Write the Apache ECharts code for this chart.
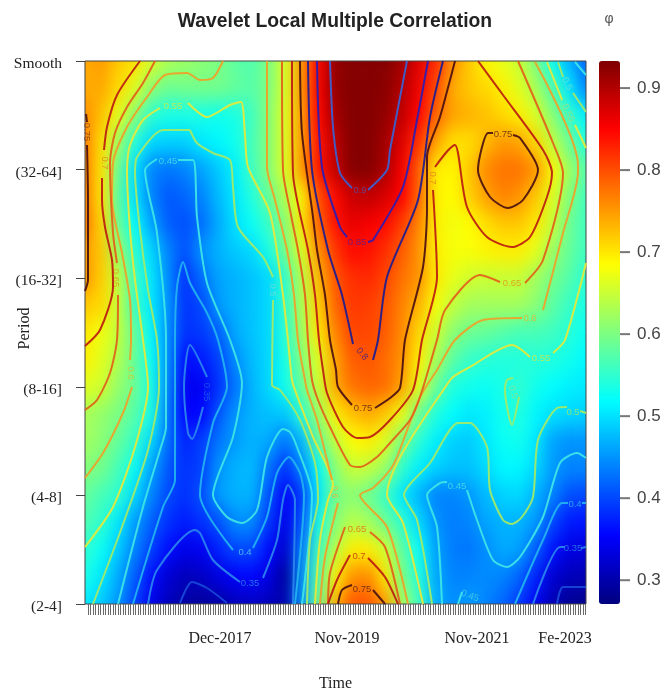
<!DOCTYPE html>
<html><head><meta charset="utf-8">
<style>html,body{margin:0;padding:0;background:#fff}#c{width:663px;height:691px}</style>
<script src="https://cdn.jsdelivr.net/npm/echarts@6/dist/echarts.min.js"></script>
</head><body>
<svg width="0" height="0" style="position:absolute"><filter id="soft" x="0" y="0" width="100%" height="100%" color-interpolation-filters="sRGB"><feGaussianBlur stdDeviation="7 10"/></filter></svg>
<div id="c"></div>
<script>
// Time axis: 0..501 steps. Scale axis: 0 (2-4] .. 543 Smooth.
const periodLabels=['(2-4]','(4-8]','(8-16]','(16-32]','(32-64]','Smooth'];
const periodTicks=[0,108.6,217.2,325.8,434.4,543];
const timeLabels=['Dec-2017','Nov-2019','Nov-2021','Fe-2023'];
const timeLabelTicks=[135,262,392,480];
const colorbarTicks=[0.3,0.4,0.5,0.6,0.7,0.8,0.9];
const valueMin=0.271,valueMax=0.933;

// Correlation: rows from Smooth (top) to (2-4] (bottom), 31 columns
const r00=[.74,.75,.72,.705,.66,.63,.62,.61,.60,.58,.57,.60,.66,.755,.855,.92,.93,.93,.93,.91,.87,.825,.76,.72,.69,.67,.65,.60,.525,.47,.42];
const r01=[.74,.74,.71,.665,.61,.59,.595,.595,.595,.585,.575,.60,.66,.755,.855,.92,.93,.93,.925,.90,.86,.805,.74,.72,.71,.695,.665,.63,.57,.505,.44];
const r02=[.76,.725,.67,.61,.545,.535,.535,.535,.53,.535,.56,.605,.665,.75,.85,.91,.93,.93,.92,.89,.85,.785,.745,.735,.725,.71,.695,.66,.61,.555,.51];
const r03=[.77,.705,.625,.54,.495,.49,.49,.505,.515,.53,.565,.605,.665,.75,.84,.895,.93,.93,.91,.87,.82,.745,.705,.705,.73,.75,.745,.71,.645,.59,.54];
const r04=[.77,.70,.59,.50,.44,.43,.44,.46,.485,.51,.56,.605,.665,.75,.84,.89,.93,.93,.905,.855,.79,.695,.69,.72,.76,.775,.775,.755,.69,.625,.575];
const r05=[.77,.70,.58,.50,.44,.41,.42,.44,.475,.505,.54,.585,.635,.69,.80,.845,.885,.89,.875,.85,.785,.695,.685,.715,.745,.765,.755,.72,.665,.605,.56];
const r06=[.775,.71,.59,.52,.46,.415,.405,.425,.465,.50,.525,.555,.61,.70,.785,.84,.865,.855,.845,.81,.765,.695,.675,.685,.705,.72,.72,.70,.65,.59,.56];
const r07=[.75,.72,.62,.545,.495,.44,.405,.45,.47,.485,.495,.535,.595,.665,.755,.815,.845,.84,.82,.79,.755,.695,.68,.68,.69,.695,.695,.67,.62,.585,.56];
const r08=[.755,.715,.645,.56,.505,.445,.385,.425,.46,.47,.48,.495,.55,.64,.73,.795,.82,.825,.805,.775,.755,.70,.67,.655,.65,.65,.65,.625,.595,.575,.545];
const r09=[.72,.71,.65,.555,.505,.45,.385,.40,.455,.47,.48,.495,.55,.635,.715,.785,.815,.81,.795,.765,.735,.68,.645,.625,.625,.625,.625,.61,.58,.555,.535];
const r10=[.70,.675,.645,.585,.515,.445,.385,.39,.415,.465,.48,.495,.545,.625,.70,.765,.805,.805,.79,.76,.71,.655,.61,.59,.585,.575,.565,.565,.56,.545,.525];
const r11=[.695,.665,.635,.585,.525,.445,.36,.37,.395,.445,.475,.495,.535,.605,.665,.745,.79,.795,.78,.755,.695,.63,.58,.555,.545,.54,.54,.545,.54,.53,.515];
const r12=[.665,.655,.615,.59,.535,.44,.345,.345,.385,.43,.47,.495,.53,.585,.655,.74,.775,.785,.78,.745,.67,.59,.54,.53,.525,.535,.55,.53,.52,.51,.505];
const r13=[.63,.615,.60,.575,.535,.43,.355,.355,.41,.45,.47,.48,.485,.545,.62,.695,.725,.74,.72,.675,.59,.54,.52,.505,.51,.53,.54,.515,.50,.495,.49];
const r14=[.625,.61,.585,.555,.495,.425,.375,.395,.43,.455,.47,.465,.43,.475,.585,.645,.685,.695,.665,.60,.545,.51,.49,.485,.505,.525,.53,.505,.46,.45,.45];
const r15=[.605,.595,.565,.525,.46,.41,.385,.395,.45,.47,.475,.43,.385,.44,.52,.61,.65,.645,.62,.55,.51,.49,.48,.48,.495,.515,.515,.495,.455,.44,.44];
const r16=[.585,.565,.55,.495,.44,.40,.385,.405,.455,.47,.47,.41,.35,.39,.505,.595,.61,.59,.555,.505,.47,.44,.44,.45,.475,.49,.495,.47,.44,.405,.40];
const r17=[.57,.55,.505,.455,.415,.385,.37,.385,.405,.445,.445,.39,.34,.41,.535,.605,.64,.625,.59,.55,.495,.45,.435,.44,.46,.47,.47,.455,.40,.37,.365];
const r18=[.55,.525,.485,.44,.395,.36,.34,.345,.375,.40,.40,.36,.32,.44,.56,.64,.695,.695,.655,.58,.525,.46,.435,.43,.445,.465,.46,.415,.365,.335,.33];
const r19=[.535,.505,.465,.415,.36,.325,.31,.315,.335,.35,.355,.335,.29,.45,.575,.695,.755,.76,.70,.60,.54,.465,.44,.44,.445,.44,.42,.375,.325,.31,.305];
const r20=[.505,.485,.45,.395,.34,.31,.295,.29,.295,.31,.315,.31,.30,.45,.59,.735,.795,.795,.75,.63,.56,.47,.445,.455,.44,.42,.39,.345,.305,.285,.28];
const heatRows=[r00,r01,r02,r03,r04,r05,r06,r07,r08,r09,r10,r11,r12,r13,r14,r15,r16,r17,r18,r19,r20];

// Contour lines [time, scale], one list per drawn piece
const c30=[[[95,1],[107,22],[122,16],[142,1]],[[472,0],[478,17],[501,17]]];
const c35=[[[122,227],[105,259],[99,217],[103,171],[107,165],[118,197]],
 [[63,0],[72,34],[110,74],[115,71],[128,44],[155,22]],[[178,26],[192,64],[198,104],[203,119],[210,104],[208,0]],
 [[448,0],[475,57],[480,57]],[[496,56],[501,57]]];
const c40=[[[48,0],[78,97],[90,124],[90,264],[92,317],[98,342],[105,321],[122,291],[133,264],[142,217],[128,181],[115,109],[148,54]],
 [[168,56],[182,87],[192,131],[204,147],[215,131],[219,109],[210,0]],
 [[430,0],[458,64],[477,101],[483,101]],[[497,101],[501,101]]];
const c45=[[[72,445],[60,434],[72,371],[81,264],[81,177],[75,154],[58,97],[33,0]],
 [[93,444],[108,444],[112,387],[122,321],[145,264],[157,221],[148,167],[128,109],[142,87],[157,81],[172,94],[182,147],[198,175],[205,172],[212,157],[227,109],[217,0]],
 [[357,0],[352,77],[342,109],[355,121],[362,122]],[[382,114],[392,84],[408,44],[422,37],[435,47],[458,87],[475,141],[492,151],[501,146]],
 [[490,542],[501,529]],[[373,0],[377,12]]];
const c50=[[[105,474],[78,474],[52,447],[50,432],[55,374],[63,314],[72,264],[74,217],[63,154],[37,77],[8,0]],
 [[105,474],[112,461],[128,451],[145,444],[148,417],[153,377],[178,347],[188,327]],[[188,304],[187,219],[195,214],[215,184],[230,141],[233,104],[225,64],[222,0]],
 [[347,0],[332,84],[319,109],[345,141],[373,181],[385,181],[402,157],[405,114],[418,84],[427,80],[437,87],[448,107],[453,164],[472,196],[482,197]],[[495,193],[501,191]],
 [[473,542],[478,527]],[[488,511],[501,492]],
 [[428,226],[422,224],[420,214],[427,179],[434,207]]];
const c55=[[[103,501],[122,487],[145,499],[156,502],[160,469],[163,437],[185,391],[198,309],[203,264],[207,224],[210,214],[228,167],[248,119],[243,104],[235,64],[230,0]],
 [[75,496],[58,484],[45,459],[42,432],[45,374],[50,324],[58,264],[63,217],[50,157],[28,97],[0,57]],
 [[338,0],[318,81],[302,109],[365,224],[385,237],[427,259],[445,247]],[[468,251],[480,264],[501,341]],
 [[462,542],[477,504]],[[490,479],[501,456]]];
const c60=[[[138,543],[128,526],[115,524],[102,531],[80,529],[62,507],[42,477],[28,441],[27,404],[37,351],[45,304],[46,264],[45,244]],
 [[47,217],[38,191],[18,151],[0,126]],
 [[182,543],[182,437],[190,404],[202,354],[209,309],[213,264],[219,229],[222,214],[232,184],[242,144],[247,124]],[[253,101],[240,47],[235,0]],
 [[323,0],[302,77],[275,109],[288,116],[305,134],[312,147],[335,207],[352,234],[370,264],[398,284],[437,286]],
 [[458,294],[478,371],[493,432],[493,439],[450,542]]];
const c65=[[[70,543],[58,521],[42,497],[30,471],[25,441],[28,371],[32,341]],[[33,309],[32,264],[25,231],[12,204],[0,194]],
 [[197,543],[198,434],[206,389],[213,354],[220,309],[223,264],[227,224],[233,204],[245,177],[265,139],[275,137],[292,147],[305,161],[325,184],[335,207],[352,264],[360,294],[395,329],[415,322]],
 [[440,321],[458,344],[478,431],[468,461],[433,543]],
 [[243,0],[245,31],[260,77]],[[285,72],[300,57],[315,0]]];
const c70=[[[55,543],[32,509],[22,477],[19,454]],[[17,426],[17,404],[20,377],[27,344],[28,317],[15,274],[0,258]],
 [[207,543],[208,431],[223,354],[230,309],[234,264],[238,234],[242,211],[258,177],[272,166],[285,167],[305,184],[328,214],[337,264],[352,327],[348,414]],
 [[350,437],[370,459],[373,451],[382,397],[402,367],[427,357],[445,367],[462,407],[467,431],[458,454],[418,509],[393,543]],
 [[243,0],[252,24],[265,49]],[[283,46],[300,27],[313,0]]];
const c75=[[[1,490],[2,482]],[[2,459],[3,404],[3,324],[0,313]],
 [[215,543],[217,471],[228,387],[232,354],[240,309],[245,264],[251,234],[253,217],[267,199]],[[290,196],[305,206],[315,216],[320,264],[338,337],[342,397],[342,447],[355,487],[370,543]],
 [[253,0],[257,14],[267,19]],[[288,14],[300,0]],
 [[408,471],[403,471],[393,434],[405,407],[423,396],[438,404],[453,434],[435,466],[428,469]]];
const c80=[[[223,543],[227,434],[243,354],[257,309],[268,260]],[[288,244],[293,264],[302,327],[333,404],[345,487],[358,543]]];
const c85=[[[232,543],[237,437],[255,377],[262,367]],[[283,362],[288,364],[318,417],[332,484],[343,543]]];
const c90=[[[245,543],[248,477],[255,431],[267,416]],[[283,414],[302,434],[305,454],[322,543]]];
const contours=[[c30,'#1848d8'],[c35,'#2a86ee'],[c40,'#22b4f0'],[c45,'#3fe6e6'],[c50,'#a4ea66'],[c55,'#e8e838'],[c60,'#efa028'],[c65,'#e2601a'],[c70,'#bb1c10'],[c75,'#4c1010'],[c80,'#1c1c90'],[c85,'#2c1cb4'],[c90,'#3a62d2']];

// Contour labels: time, scale, text, colour, rotation
const contourLabels=[
 [2,472,'0.75','#7a3a20',-90],[20,441,'0.7','#e07a20',-90],[31,326,'0.65','#d89a20',-90],[46,231,'0.6','#d8c030',-90],
 [88,498,'0.55','#d8e840',0],[83,443,'0.45','#50e0e0',0],[188,314,'0.5','#70e0d0',-90],[160,52,'0.4','#60d0f0',0],[165,21,'0.35','#3090e8',0],[122,212,'0.35','#2060e8',-90],
 [250,112,'0.6','#e8b030',-90],[272,75,'0.65','#e06a20',0],[274,48,'0.7','#c03010',0],[277,15,'0.75','#5a2010',0],
 [278,196,'0.75','#5a2010',0],[277,250,'0.8','#3a1c90',-50],[272,362,'0.85','#5a1c90',0],[275,414,'0.9','#5a50b0',0],
 [348,426,'0.7','#e07a20',-90],[418,470,'0.75','#5a2010',0],[427,321,'0.65','#e0901a',0],[445,286,'0.6','#e8b030',0],[456,246,'0.55','#d8e840',0],
 [428,212,'0.5','#90e090',-70],[488,192,'0.5','#a4ea66',0],[372,118,'0.45','#50e0e0',0],[490,100,'0.4','#3ab8f0',0],[488,56,'0.35','#2a86ee',0],
 [482,520,'0.5','#70e0d0',-65],[483,491,'0.55','#a0e080',-65],[385,8,'0.45','#50d0e0',-20]
];

const nCols=r00.length,nRows=heatRows.length,pad=2;
const cellW=501/(nCols-1),cellH=543/(nRows-1);
const table=[];
for(let j=-pad;j<nRows+pad;j++){
  const row=heatRows[Math.min(nRows-1,Math.max(0,j))];
  for(let i=-pad;i<nCols+pad;i++){
    table.push([i+pad,j+pad,row[Math.min(nCols-1,Math.max(0,i))]]);
  }
}
const catX=Array.from({length:nCols+2*pad},(_,i)=>i);
const catY=Array.from({length:nRows+2*pad},(_,i)=>i);
const timeTicks=[];for(let t=3;t<=501;t+=2.5)timeTicks.push(t);

const Z=1;
const series=[{type:'heatmap',xAxisIndex:0,yAxisIndex:0,data:table,zlevel:0,progressive:0,silent:true,clip:false,emphasis:{disabled:true}}];
contours.forEach(([segs,col])=>segs.forEach(seg=>series.push({
  type:'line',xAxisIndex:1,yAxisIndex:1,data:seg,zlevel:Z,symbol:'none',smooth:0.25,silent:true,
  lineStyle:{color:col,width:2,opacity:.92},animation:false})));
series.push({type:'scatter',xAxisIndex:1,yAxisIndex:1,zlevel:Z,symbolSize:1,silent:true,itemStyle:{color:'transparent'},
  data:contourLabels.map(l=>({value:[l[0],l[1]],label:{show:true,position:'inside',formatter:l[2],color:l[3],rotate:l[4],fontSize:9.5,fontFamily:'Liberation Sans'}}))});
// Colour-bar tick marks, placed just outside the bar through its own y scale
series.push({type:'scatter',xAxisIndex:2,yAxisIndex:2,zlevel:Z,silent:true,clip:false,symbol:'rect',symbolSize:[10,2],
  itemStyle:{color:'#555'},data:colorbarTicks.map(v=>[1.24,v])});

const serif='Liberation Serif';
const chart=echarts.init(document.getElementById('c'),null,{renderer:'canvas'});
chart.setOption({
  animation:false,backgroundColor:'transparent',
  title:{text:'Wavelet Local Multiple Correlation',left:330,top:7,textAlign:'center',zlevel:Z,
    textStyle:{fontFamily:'Liberation Sans',fontWeight:'bold',fontSize:19.3,color:'#222'}},
  grid:[
    {left:85-(pad+.5)*cellW,top:61-(pad+.5)*cellH,width:(nCols+2*pad)*cellW,height:(nRows+2*pad)*cellH,outerBoundsMode:'none'},
    {left:85,top:61,width:501,height:543,show:true,backgroundColor:'transparent',borderColor:'#444',borderWidth:1,zlevel:Z,outerBoundsMode:'none'},
    {left:599,top:61,width:21,height:543,zlevel:Z,outerBoundsMode:'none'}
  ],
  xAxis:[
    {type:'category',gridIndex:0,data:catX,show:false},
    {type:'value',gridIndex:1,min:0,max:501,zlevel:Z,splitLine:{show:false},axisLine:{show:false},
     name:'Time',nameLocation:'middle',nameGap:72,nameMoveOverlap:false,nameTextStyle:{fontFamily:serif,fontSize:16,color:'#222'},
     axisTick:{show:true,customValues:timeTicks,length:11,lineStyle:{color:'#6a6a6a',width:1}},
     axisLabel:{customValues:timeLabelTicks,margin:27,fontFamily:serif,fontSize:16,color:'#222',hideOverlap:false,
       formatter:v=>timeLabels[timeLabelTicks.indexOf(v)]}},
    {type:'value',gridIndex:2,min:0,max:1,show:false}
  ],
  yAxis:[
    {type:'category',gridIndex:0,data:catY,inverse:true,show:false},
    {type:'value',gridIndex:1,min:0,max:543,zlevel:Z,splitLine:{show:false},axisLine:{show:false},
     name:'Period',nameLocation:'middle',nameGap:52,nameRotate:90,nameMoveOverlap:false,nameTextStyle:{fontFamily:serif,fontSize:16,color:'#222',padding:[0,0,0,8]},
     axisTick:{show:true,customValues:periodTicks,length:9,lineStyle:{color:'#444'}},
     axisLabel:{customValues:periodTicks,margin:23,fontFamily:serif,fontSize:15.5,color:'#222',verticalAlign:'top',lineHeight:6,showMinLabel:true,showMaxLabel:true,
       formatter:v=>periodLabels[periodTicks.indexOf(v)]}},
    {type:'value',gridIndex:2,position:'right',min:valueMin,max:valueMax,zlevel:Z,splitLine:{show:false},axisLine:{show:false},
     axisTick:{show:false},
     axisLabel:{customValues:colorbarTicks,margin:17,fontFamily:'Liberation Sans',fontSize:17,color:'#444',formatter:v=>v.toFixed(1)}}
  ],
  visualMap:{type:'continuous',seriesIndex:0,min:valueMin,max:valueMax,left:599,top:61,itemWidth:21,itemHeight:543,padding:0,
    calculable:false,hoverLink:false,zlevel:Z,text:null,
    inRange:{color:['#00007F','#0000FF','#007FFF','#00FFFF','#7FFF7F','#FFFF00','#FF7F00','#FF0000','#7F0000']}},
  graphic:[{type:'text',zlevel:Z,x:609,y:19,style:{text:'φ',fill:'#555',font:'14px "Liberation Sans"',align:'center',verticalAlign:'middle'}}],
  series
});
function softenHeat(){
  const cv=document.querySelectorAll('#c canvas')[0];
  if(cv){cv.style.filter='url(#soft)';cv.style.clipPath='inset(61px 77px 87px 85px)';}
}
softenHeat();
chart.on('finished',softenHeat);
</script>
</body></html>
